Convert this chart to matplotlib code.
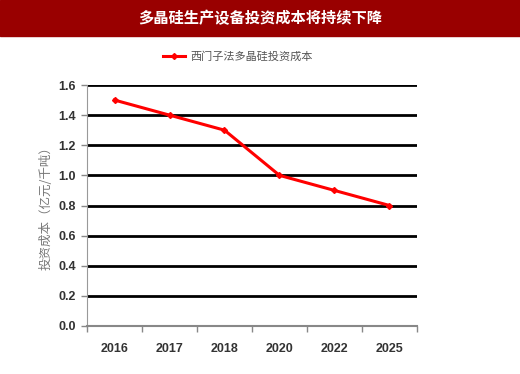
import matplotlib.pyplot as plt
import numpy as np

plt.rcParams['font.family'] = ['Noto Sans CJK SC', 'DejaVu Sans']

years = ['2016', '2017', '2018', '2020', '2022', '2025']
cost = [1.5, 1.4, 1.3, 1.0, 0.9, 0.8]
series_name = '西门子法多晶硅投资成本'
title = '多晶硅生产设备投资成本将持续下降'
ylabel = '投资成本（亿元/千吨）'
yticks = [0.0, 0.2, 0.4, 0.6, 0.8, 1.0, 1.2, 1.4, 1.6]

fig = plt.figure(figsize=(5.2, 3.74), dpi=100)

# title bar across the top
fig.patches.append(plt.Rectangle((0, 1 - 36 / 374), 1, 36 / 374, transform=fig.transFigure,
                                 color='#990000', zorder=0))
fig.text(0.5, 1 - 18 / 374, title, color='white', fontsize=11, fontweight='bold',
         ha='center', va='center')

ax = fig.add_axes([87 / 520, 48 / 374, 330 / 520, 241 / 374])
x = np.arange(len(years))
ax.plot(x, cost, color='#ff0000', lw=2.2, marker='D', markersize=3, label=series_name, zorder=3)

ax.set_xlim(-0.5, len(years) - 0.5)
ax.set_ylim(0, 1.6)
ax.set_yticks(yticks)
ax.set_yticklabels(['%.1f' % v for v in yticks], family='Liberation Sans', fontsize=9,
                   color='#333333', fontweight='bold')
for v in yticks[1:]:
    ax.axhline(v, color='black', lw=2, zorder=1)

ax.set_xticks(x)
ax.set_xticklabels(years, family='Liberation Sans', fontsize=9, color='#333333', fontweight='bold')
ax.set_xticks(np.arange(len(years) + 1) - 0.5, minor=True)
ax.tick_params(axis='x', which='major', length=0, pad=12)
ax.tick_params(axis='x', which='minor', length=4, color='#888888', direction='out', width=1)
ax.tick_params(axis='y', length=4, color='#888888', width=1, direction='out', pad=4)

for s in ['top', 'right']:
    ax.spines[s].set_visible(False)
ax.spines['left'].set_color('#999999')
ax.spines['bottom'].set_color('#888888')
ax.spines['bottom'].set_linewidth(1.5)

ax.set_ylabel(ylabel, color='#777777', fontsize=9, labelpad=4)

ax.legend(loc='upper left', bbox_to_anchor=(0.2, 1.18), frameon=False, fontsize=8,
          handlelength=2, handletextpad=0.5, labelcolor='#555555')

fig.savefig('out.png', dpi=100)
